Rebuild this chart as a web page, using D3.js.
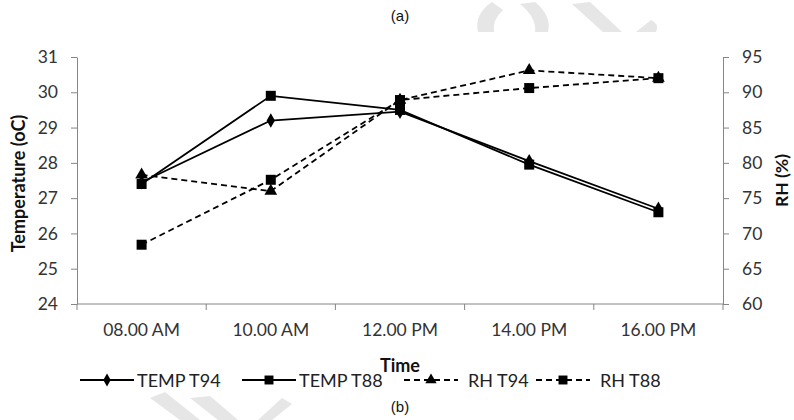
<!DOCTYPE html>
<html>
<head>
<meta charset="utf-8">
<script src="https://cdn.jsdelivr.net/npm/d3@7/dist/d3.min.js"></script>
<style>
  body { margin: 0; background: #fff; }
  svg { display: block; }
</style>
</head>
<body>
<svg id="chart" width="794" height="420"></svg>
<script>
const categories = ["08.00 AM", "10.00 AM", "12.00 PM", "14.00 PM", "16.00 PM"];
const tempT94 = [27.45, 29.2, 29.45, 28.05, 26.7];
const tempT88 = [27.4, 29.9, 29.5, 27.95, 26.6];
const rhT94 = [78.3, 76.0, 88.9, 93.1, 92.0];
const rhT88 = [68.4, 77.6, 88.9, 90.6, 92.0];
const tempTicks = [24, 25, 26, 27, 28, 29, 30, 31];
const rhTicks = [60, 65, 70, 75, 80, 85, 90, 95];
const seriesNames = ["TEMP T94", "TEMP T88", "RH T94", "RH T88"];

(function () {
const svg = d3.select("#chart");
const font = "Lato, 'Open Sans', sans-serif";
const axisColor = "#868686";
const pL = 77, pR = 723, pT = 57, pB = 304;

// faint watermark
const wm = svg.append("g").attr("fill", "#e6e6e6");
wm.append("path").attr("d", "M492,2 Q474,14 478,32 L494,32 Q492,20 503,10 Z");
wm.append("path").attr("d", "M520,4 L535,2 Q552,16 548,32 L535,32 Q537,18 520,4 Z");
wm.append("path").attr("d", "M572,4 L590,2 L622,32 L603,32 Z");
wm.append("path").attr("d", "M636,32 L651,20 Q660,24 656,32 Z");
wm.append("path").attr("d", "M150,398 L165,392 L200,420 L180,420 Z");
wm.append("path").attr("d", "M190,398 L210,396 L238,420 L218,420 Z");
wm.append("path").attr("d", "M258,420 L282,398 L292,404 L272,420 Z");

const x = d3.scaleBand().domain(categories).range([pL, pR]).padding(0);
const yT = d3.scaleLinear().domain([24, 31]).range([pB, pT]);
const yR = d3.scaleLinear().domain([60, 95]).range([pB, pT]);

function styleAxis(g) {
  g.select(".domain").attr("stroke", axisColor).attr("stroke-width", 1);
  g.selectAll(".tick line").attr("stroke", axisColor);
  g.selectAll(".tick text").attr("fill", "#333").attr("font-family", font).attr("font-size", 17.5);
}

const gl = svg.append("g").attr("transform", `translate(${pL},0)`)
  .call(d3.axisLeft(yT).tickValues(tempTicks).tickFormat(d3.format("d")).tickSize(6).tickPadding(13).tickSizeOuter(0));
styleAxis(gl);

const gr = svg.append("g").attr("transform", `translate(${pR},0)`)
  .call(d3.axisRight(yR).tickValues(rhTicks).tickFormat(d3.format("d")).tickSize(6).tickPadding(13).tickSizeOuter(0));
styleAxis(gr);

const gb = svg.append("g").attr("transform", `translate(0,${pB})`);
gb.append("line").attr("x1", pL).attr("x2", pR).attr("y1", 0).attr("y2", 0).attr("stroke", axisColor);
const bounds = categories.map(c => x(c)).concat([pR]);
gb.selectAll("line.tk").data(bounds).enter().append("line").attr("class", "tk")
  .attr("x1", d => d).attr("x2", d => d).attr("y1", 0).attr("y2", 6).attr("stroke", axisColor);
gb.selectAll("text").data(categories).enter().append("text")
  .attr("x", d => x(d) + x.bandwidth() / 2).attr("y", 32)
  .attr("text-anchor", "middle").attr("font-family", font).attr("font-size", 17.5).attr("fill", "#333")
  .text(d => d);

svg.append("text").attr("transform", `translate(25,${(pT + pB) / 2 + 3}) rotate(-90)`)
  .attr("text-anchor", "middle").attr("font-family", font).attr("font-weight", "bold")
  .attr("font-size", 18).attr("fill", "#111").text("Temperature (oC)");
svg.append("text").attr("transform", `translate(788,${(pT + pB) / 2}) rotate(-90)`)
  .attr("text-anchor", "middle").attr("font-family", font).attr("font-weight", "bold")
  .attr("font-size", 17.5).attr("fill", "#111").text("RH (%)");
svg.append("text").attr("x", 400).attr("y", 372).attr("text-anchor", "middle")
  .attr("font-family", font).attr("font-weight", "bold").attr("font-size", 18).attr("fill", "#111").text("Time");

svg.append("text").attr("x", 400).attr("y", 21).attr("text-anchor", "middle")
  .attr("font-family", "'Liberation Sans', Arial, sans-serif").attr("font-size", 15).attr("fill", "#111").text("(a)");
svg.append("text").attr("x", 400).attr("y", 412).attr("text-anchor", "middle")
  .attr("font-family", "'Liberation Sans', Arial, sans-serif").attr("font-size", 15).attr("fill", "#111").text("(b)");

const cx = c => x(c) + x.bandwidth() / 2;
const series = [
  { name: seriesNames[0], vals: tempT94, y: yT, dash: null, sym: d3.symbolDiamond, size: 60 },
  { name: seriesNames[1], vals: tempT88, y: yT, dash: null, sym: d3.symbolSquare, size: 100 },
  { name: seriesNames[2], vals: rhT94, y: yR, dash: "6,4", sym: d3.symbolTriangle, size: 70 },
  { name: seriesNames[3], vals: rhT88, y: yR, dash: "6,4", sym: d3.symbolSquare, size: 100 }
];

series.forEach(s => {
  const pts = categories.map((c, i) => [cx(c), s.y(s.vals[i])]);
  svg.append("path").datum(pts).attr("d", d3.line())
    .attr("fill", "none").attr("stroke", "#000").attr("stroke-width", 1.8)
    .attr("stroke-dasharray", s.dash);
  svg.append("g").selectAll("path").data(pts).enter().append("path")
    .attr("transform", d => `translate(${d[0]},${d[1]})`)
    .attr("d", d3.symbol().type(s.sym).size(s.size)).attr("fill", "#000");
});

const legendX = [80, 242, 404, 536];
const lg = svg.append("g").attr("transform", "translate(0,380)");
series.forEach((s, i) => {
  const g = lg.append("g").attr("transform", `translate(${legendX[i]},0)`);
  g.append("line").attr("x1", 0).attr("x2", 54).attr("y1", 0).attr("y2", 0)
    .attr("stroke", "#000").attr("stroke-width", 1.8).attr("stroke-dasharray", s.dash);
  g.append("path").attr("transform", "translate(27,0)")
    .attr("d", d3.symbol().type(s.sym).size(s.size * 0.8)).attr("fill", "#000");
  g.append("text").attr("x", 57 + (s.dash ? 7 : 0)).attr("y", 6.5)
    .attr("font-family", font).attr("font-size", 18).attr("fill", "#222").text(s.name);
});
})();
</script>
</body>
</html>
